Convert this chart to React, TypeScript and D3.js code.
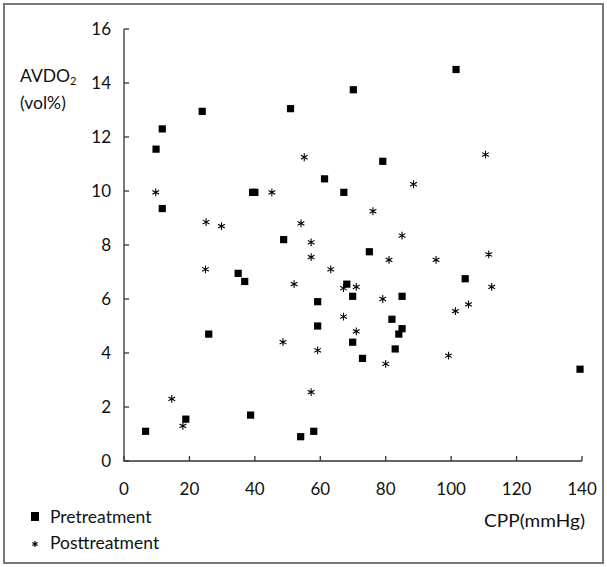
import React from "react";
import * as d3 from "d3";

// pretreatment points: CPP (mmHg), AVDO2 (vol%)
const preCPP = [6.6, 9.8, 11.7, 11.7, 18.9, 23.9, 25.9, 34.9, 36.9, 38.7, 39.3, 40.0, 48.8, 50.9, 54.0, 58.0, 59.2, 59.2, 61.3, 67.2, 68.1, 69.9, 69.9, 70.1, 72.9, 75.0, 79.1, 81.9, 82.9, 84.0, 85.0, 85.0, 101.5, 104.3, 139.4];
const preAVDO = [1.1, 11.55, 12.3, 9.35, 1.55, 12.95, 4.7, 6.95, 6.65, 1.7, 9.95, 9.95, 8.2, 13.05, 0.9, 1.1, 5.9, 5.0, 10.45, 9.95, 6.55, 6.1, 4.4, 13.75, 3.8, 7.75, 11.1, 5.25, 4.15, 4.7, 4.9, 6.1, 14.5, 6.75, 3.4];

// posttreatment points
const postCPP = [9.7, 14.6, 18.0, 24.9, 25.1, 29.8, 45.2, 48.6, 52.0, 54.1, 55.1, 57.2, 57.2, 57.2, 59.2, 63.2, 67.1, 67.1, 71.0, 71.0, 76.1, 79.1, 80.0, 81.0, 85.0, 88.5, 95.4, 99.2, 101.3, 105.3, 110.5, 111.5, 112.4];
const postAVDO = [9.95, 2.3, 1.3, 7.1, 8.85, 8.7, 9.95, 4.4, 6.55, 8.8, 11.25, 8.1, 7.55, 2.55, 4.1, 7.1, 6.4, 5.35, 6.45, 4.8, 9.25, 6.0, 3.6, 7.45, 8.35, 10.25, 7.45, 3.9, 5.55, 5.8, 11.35, 7.65, 6.45];

const xTicks = [0, 20, 40, 60, 80, 100, 120, 140];
const yTicks = [0, 2, 4, 6, 8, 10, 12, 14, 16];

const W = 607;
const H = 567;
const font = "Lato, 'Open Sans', sans-serif";

export default function App() {
  const x = d3.scaleLinear().domain([0, 140]).range([124, 582]);
  const y = d3.scaleLinear().domain([0, 16]).range([461, 29]);

  const square = d3.symbol(d3.symbolSquare, 52)();
  const star = d3.symbol(d3.symbolAsterisk, 42)();
  const legendStar = d3.symbol(d3.symbolAsterisk, 26)();

  const pre = preCPP.map((c, i) => [c, preAVDO[i]]);
  const post = postCPP.map((c, i) => [c, postAVDO[i]]);

  return (
    <div style={{ position: "absolute", left: 0, top: 0 }}>
      <svg width={W} height={H} style={{ display: "block", background: "#fff" }}>
        <rect x={4} y={4} width={W - 8} height={H - 8} fill="none" stroke="#777" strokeWidth={2} />

        {/* axes */}
        <g stroke="#333" strokeWidth={1.3} fill="none">
          <path d={`M${x(0)},${y(16)}V${y(0)}H${x(140)}`} />
          {yTicks.map((t) => (
            <line key={"yt" + t} x1={x(0)} x2={x(0) + 5} y1={y(t)} y2={y(t)} />
          ))}
          {xTicks.map((t) => (
            <line key={"xt" + t} x1={x(t)} x2={x(t)} y1={y(0)} y2={y(0) - 5} />
          ))}
        </g>

        <g fontFamily={font} fontSize={17} fill="#111">
          {yTicks.map((t) => (
            <text key={"yl" + t} x={111} y={y(t)} dy="0.35em" textAnchor="end">
              {t}
            </text>
          ))}
          {xTicks.map((t) => (
            <text key={"xl" + t} x={x(t)} y={489} dy="0.35em" textAnchor="middle">
              {t}
            </text>
          ))}
        </g>

        {/* axis titles */}
        <g fontFamily={font} fontSize={17.5} fill="#111">
          <text x={20} y={82}>
            AVDO<tspan fontSize={11} dy={3}>2</tspan>
          </text>
          <text x={20} y={109}>(vol%)</text>
          <text x={585} y={527} textAnchor="end" textLength={101} lengthAdjust="spacingAndGlyphs">CPP(mmHg)</text>
        </g>

        {/* points */}
        {pre.map((d, i) => (
          <path key={"p" + i} d={square} transform={`translate(${x(d[0])},${y(d[1])})`} fill="#000" />
        ))}
        {post.map((d, i) => (
          <path key={"q" + i} d={star} transform={`translate(${x(d[0])},${y(d[1])})`} fill="none" stroke="#000" strokeWidth={1.1} />
        ))}

        {/* legend */}
        <g fontFamily={font} fontSize={17.5} fill="#111">
          <rect x={31} y={512} width={8} height={9} fill="#000" />
          <text x={50} y={523}>Pretreatment</text>
          <path d={legendStar} transform="translate(35,544)" fill="none" stroke="#000" strokeWidth={1.2} />
          <text x={50} y={549}>Posttreatment</text>
        </g>
      </svg>
    </div>
  );
}
